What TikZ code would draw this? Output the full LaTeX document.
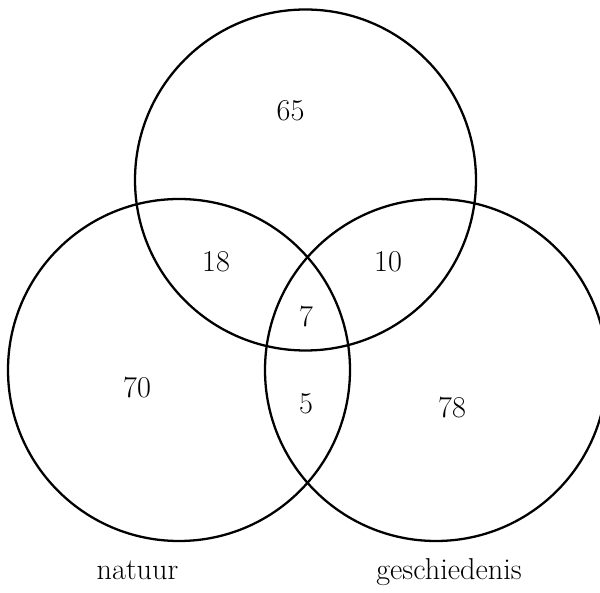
\documentclass[tikz,border=0pt]{standalone}
\usepackage{tikz}
\tikzset{
    % Set circles - thick black outlines
    set circle/.style={draw=black, line width=1.3pt},
    % Region counts inside the diagram
    count/.style={font=\fontsize{17.2}{20}\selectfont},
    % Set names below the circles
    set label/.style={font=\fontsize{17.2}{20}\selectfont, anchor=base}
}
\begin{document}
\begin{tikzpicture}
    % --- Canvas ---
    \useasboundingbox (0,0) rectangle (12,11.86);

    % --- Set up coordinates ---
    \coordinate (C_top) at (6.11, 8.26);
    \coordinate (C_nat) at (3.58, 4.46);
    \coordinate (C_ges) at (8.72, 4.46);

    % --- Draw circles ---
    \begin{scope}
        \clip (0,0) rectangle (12,11.86);
        \draw[set circle] (C_top) circle (3.41);
        \draw[set circle] (C_nat) circle (3.42);
        \draw[set circle] (C_ges) circle (3.42);
    \end{scope}

    % --- Region counts ---
    \node[count] (n_top) at (5.81, 9.64) {65};
    \node[count] (n_tn)  at (4.32, 6.62) {18};
    \node[count] (n_tg)  at (7.76, 6.62) {10};
    \node[count] (n_all) at (6.12, 5.52) {7};
    \node[count] (n_nat) at (2.74, 4.10) {70};
    \node[count] (n_ng)  at (6.12, 3.78) {5};
    \node[count] (n_ges) at (9.04, 3.70) {78};

    % --- Set names ---
    \node[set label] (l_nat) at (2.75, 0.26) {natuur};
    \node[set label] (l_ges) at (8.98, 0.26) {geschiedenis};

\end{tikzpicture}
\end{document}
